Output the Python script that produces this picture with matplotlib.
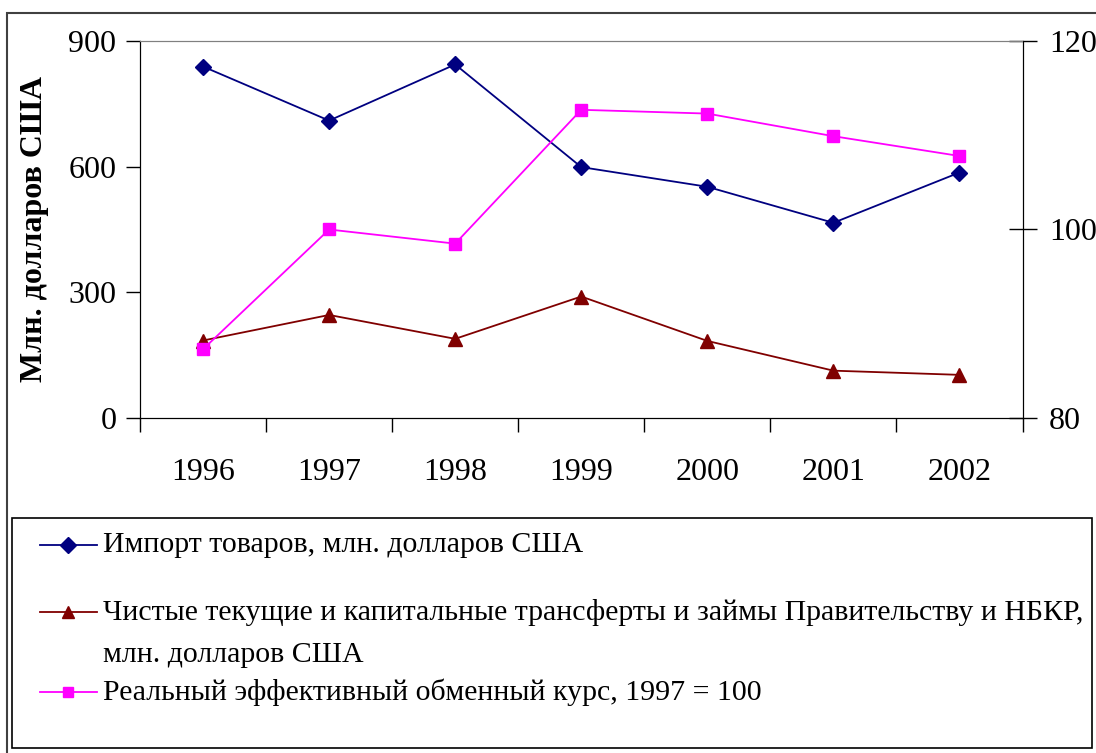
import matplotlib
matplotlib.use("Agg")
import matplotlib.pyplot as plt
from matplotlib.lines import Line2D
from matplotlib.patches import Rectangle
import numpy as np

plt.rcParams["font.family"] = ["Liberation Serif", "DejaVu Serif"]

years = ["1996", "1997", "1998", "1999", "2000", "2001", "2002"]
imports = [839, 710, 844, 599, 552, 466, 586]
transfers = [185, 246, 189, 290, 184, 113, 103]
reer = [87.3, 100.0, 98.5, 112.7, 112.3, 109.9, 107.8]

labels = [
    "Импорт товаров, млн. долларов США",
    "Чистые текущие и капитальные трансферты и займы Правительству и НБКР,\nмлн. долларов США",
    "Реальный эффективный обменный курс, 1997 = 100",
]
NAVY, DARKRED, MAGENTA = "#000080", "#800000", "#FF00FF"

W, H = 1096, 753
fig = plt.figure(figsize=(W / 100, H / 100), dpi=100)

# plot area in pixel coords
x0, x1, ytop, ybot = 140, 1022.5, 41, 418
ax = fig.add_axes([x0 / W, 1 - ybot / H, (x1 - x0) / W, (ybot - ytop) / H])
ax2 = ax.twinx()

x = np.arange(len(years))
l1, = ax.plot(x, imports, color=NAVY, lw=1.3, marker="D", ms=8.5, zorder=3)
l2, = ax.plot(x, transfers, color=DARKRED, lw=1.3, marker="^", ms=10, zorder=3)
l3, = ax2.plot(x, reer, color=MAGENTA, lw=1.3, marker="s", ms=8.5, zorder=3)

ax.set_xlim(-0.5, len(years) - 0.5)
ax.set_ylim(0, 900)
ax.set_yticks([0, 300, 600, 900])
ax2.set_ylim(80, 120)
ax2.set_yticks([80, 100, 120])

# category ticks between points, labels at the points
ax.set_xticks(np.arange(-0.5, len(years), 1.0))
ax.set_xticklabels([])
ax.set_xticks(x, minor=True)
ax.set_xticklabels(years, minor=True)
ax.tick_params(axis="x", which="major", direction="out", length=10, width=1)
ax.tick_params(axis="x", which="minor", length=0, pad=29, labelsize=23)
ax.tick_params(axis="y", direction="out", length=10, width=1, pad=7, labelsize=23)
ax2.tick_params(axis="y", direction="inout", length=20, width=1, pad=9, labelsize=23)

for a in (ax, ax2):
    a.spines["top"].set_color("#808080")
    a.spines["left"].set_color("black")
    a.spines["right"].set_color("black")
    a.spines["bottom"].set_color("black")
    a.patch.set_visible(False)

ax.set_ylabel("Млн. долларов США", fontsize=23, fontweight="bold", labelpad=14)

# outer frame and legend box
fig.patches.append(Rectangle((7 / W, -0.01), 1.1, 1 - 13 / H + 0.01,
                             transform=fig.transFigure, fill=False,
                             edgecolor="#404040", lw=1.5))
fig.patches.append(Rectangle((12 / W, 1 - 748 / H), (1092 - 12) / W, (748 - 518) / H,
                             transform=fig.transFigure, fill=False,
                             edgecolor="black", lw=1.2))

# legend entries
entries = [(l1, labels[0], 545), (l2, labels[1], 612), (l3, labels[2], 692)]
for line, text, ypx in entries:
    yf = 1 - ypx / H
    fig.add_artist(Line2D([40 / W, 97 / W], [yf, yf], transform=fig.transFigure,
                          color=line.get_color(), lw=1.3))
    fig.add_artist(Line2D([68 / W], [yf], transform=fig.transFigure,
                          color=line.get_color(), marker=line.get_marker(),
                          ms=line.get_markersize() * 0.9, lw=0))
    for k, part in enumerate(text.split("\n")):
        fig.text(103 / W, 1 - (ypx + 43 * k) / H, part, fontsize=21.5,
                 va="center", ha="left")

fig.savefig("out.png", dpi=100)
